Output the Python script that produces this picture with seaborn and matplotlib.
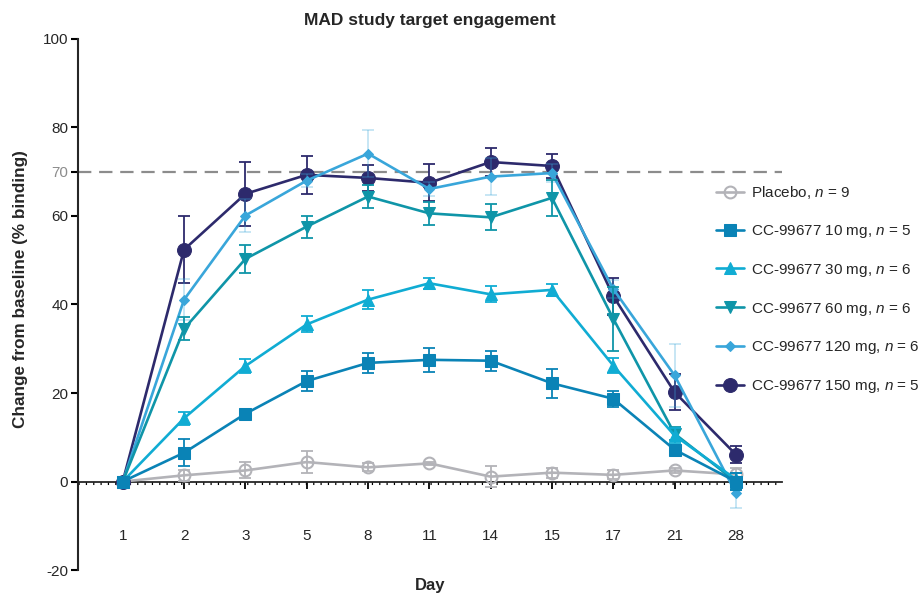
import numpy as np
import matplotlib
matplotlib.use('Agg')
import matplotlib.pyplot as plt
import seaborn as sns

sns.set_style('ticks')
plt.rcParams['font.family'] = ['Liberation Sans', 'DejaVu Sans']
plt.rcParams['font.size'] = 10
plt.rcParams['axes.unicode_minus'] = False
plt.rcParams['mathtext.fontset'] = 'custom'
plt.rcParams['mathtext.it'] = 'Liberation Sans:italic'
plt.rcParams['mathtext.rm'] = 'Liberation Sans'

days = ['1', '2', '3', '5', '8', '11', '14', '15', '17', '21', '28']

placebo = [0, 1.4, 2.5, 4.4, 3.2, 4.1, 1.1, 2.0, 1.5, 2.5, 1.6]
placebo_sem = [0, 1.2, 1.8, 2.4, 0.9, 0.4, 2.3, 1.1, 1.0, 0.6, 1.5]
mg10 = [0, 6.5, 15.3, 22.7, 26.8, 27.5, 27.3, 22.2, 18.7, 7.2, 0.0]
mg10_sem = [0, 3.1, 0.8, 2.2, 2.3, 2.7, 2.3, 3.3, 1.8, 1.0, 2.0]
mg30 = [0, 14.3, 26.1, 35.5, 41.1, 44.8, 42.3, 43.3, 26.2, 10.4, 0.5]
mg30_sem = [0, 1.5, 1.5, 1.8, 2.1, 1.3, 1.8, 1.4, 1.6, 1.8, 1.5]
mg60 = [0, 34.5, 50.3, 57.6, 64.4, 60.6, 59.7, 64.1, 36.8, 10.8, 0.0]
mg60_sem = [0, 2.6, 3.1, 2.5, 2.7, 2.6, 2.9, 4.1, 7.2, 1.5, 2.0]
mg120 = [0, 41.1, 60.1, 68.0, 74.1, 66.1, 68.9, 69.7, 43.5, 24.0, -2.6]
mg120_sem = [0, 4.7, 3.8, 1.5, 5.3, 1.5, 4.1, 2.0, 2.0, 7.1, 3.4]
mg150 = [0, 52.4, 65.0, 69.3, 68.6, 67.5, 72.2, 71.3, 41.9, 20.2, 6.1]
mg150_sem = [0, 7.6, 7.3, 4.3, 3.0, 4.2, 3.1, 2.7, 4.2, 4.0, 1.9]

labels = ['Placebo, $n$ = 9',
          'CC-99677 10 mg, $n$ = 5',
          'CC-99677 30 mg, $n$ = 6',
          'CC-99677 60 mg, $n$ = 6',
          'CC-99677 120 mg, $n$ = 6',
          'CC-99677 150 mg, $n$ = 5']

# (values, sem, colour, marker, markersize, errorbar alpha)
series = [
    (placebo, placebo_sem, '#b3b3b8', 'o', 8.5, 1.0),
    (mg10, mg10_sem, '#0a83b6', 's', 8.5, 1.0),
    (mg30, mg30_sem, '#10acd3', '^', 8, 1.0),
    (mg60, mg60_sem, '#0f95a8', 'v', 8, 1.0),
    (mg120, mg120_sem, '#39a6da', 'D', 5, 0.3),
    (mg150, mg150_sem, '#2d2a6c', 'o', 10, 1.0),
]
draw_order = [0, 5, 4, 3, 2, 1]

x = np.arange(len(days))

fig, ax = plt.subplots(figsize=(9.22, 5.97), dpi=100)
fig.subplots_adjust(left=0.0846, right=0.848, top=0.9347, bottom=0.0452)

handles = {}
for z, i in enumerate(draw_order):
    vals, sem, col, mk, ms, ea = series[i]
    ax.errorbar(x, vals, yerr=sem, fmt='none', ecolor=col, alpha=ea,
                elinewidth=1.3, capsize=4, capthick=1.3, zorder=3 + 2 * z)
    sns.lineplot(x=x, y=vals, ax=ax, color=col, lw=1.9, marker=mk,
                 markersize=ms, markeredgecolor=col,
                 markerfacecolor='none' if i == 0 else col,
                 markeredgewidth=1.5 if i == 0 else 0.75,
                 label=labels[i], zorder=4 + 2 * z, legend=False)
    handles[i] = ax.lines[-1]

# 70% threshold
ax.axhline(70, color='#8c8c8c', lw=1.6, ls=(0, (6, 3.5)), zorder=2)
ax.axhline(-0.35, color='black', lw=2.2, ls=(0, (0.4, 2.0)), zorder=2)

ax.set_xlim(-0.73, 10.75)
ax.set_ylim(-20, 100)
ax.set_yticks([-20, 0, 20, 40, 60, 70, 80, 100])
ax.set_xticks(x)
ax.set_xticklabels(days)

sns.despine(ax=ax)
ax.spines['bottom'].set_position(('data', 0))
ax.spines['bottom'].set_linewidth(1.3)
ax.spines['left'].set_linewidth(1.5)
ax.spines['bottom'].set_zorder(2.5)
ax.tick_params(axis='x', length=5, width=1.3, pad=29, labelsize=11, color='black')
ax.tick_params(axis='y', length=5, width=1.5, pad=2, labelsize=11, color='black')
ytl = ax.yaxis.get_major_ticks()
ytl[5].tick1line.set_color('#8c8c8c')
ytl[5].label1.set_color('#8c8c8c')

ax.set_title('MAD study target engagement', fontweight='bold', fontsize=12.5, pad=10)
ax.set_xlabel('Day', fontweight='bold', fontsize=12)
ax.xaxis.set_label_coords(0.5, -0.015)
ax.set_ylabel('Change from baseline (% binding)', fontweight='bold', fontsize=12.3)
ax.yaxis.set_label_coords(-0.071, 0.53)

ax.legend([handles[i] for i in range(6)], labels, frameon=False,
          loc='upper left', bbox_to_anchor=(0.770, 0.702),
          bbox_transform=fig.transFigure, handlelength=1.85,
          handletextpad=0.45, labelspacing=1.43, fontsize=11,
          borderaxespad=0)

fig.savefig('out.png', dpi=100)
